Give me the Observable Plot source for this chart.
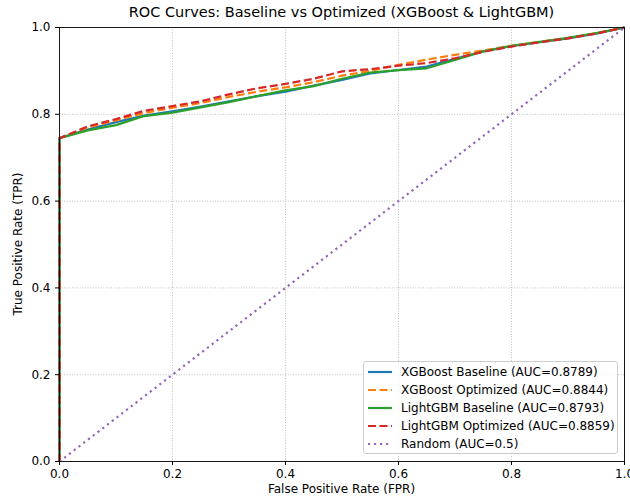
<!DOCTYPE html>
<html>
<head>
<meta charset="utf-8">
<script src="https://cdn.jsdelivr.net/npm/d3@7"></script>
<script src="https://cdn.jsdelivr.net/npm/@observablehq/plot@0.6"></script>
<style>
  html, body { margin: 0; padding: 0; background: white; }
  body { width: 630px; height: 499px; overflow: hidden; font-family: "DejaVu Sans", sans-serif; }
  #wrap { position: relative; width: 630px; height: 499px; }
  .abs { position: absolute; white-space: nowrap; color: #000; }
  #title { left: 0; width: 683px; top: 4px; text-align: center; font-size: 14.5px; }
  #xlabel { left: 0; width: 683px; top: 482px; text-align: center; font-size: 12px; }
  #ylabel { left: 18px; top: 244px; font-size: 12px; transform: translate(-50%, -50%) rotate(-90deg); }
  #legend { left: 363px; top: 361px; width: 255px; height: 93px; background: rgba(255,255,255,0.8);
            border: 1px solid #cccccc; border-radius: 3px; box-sizing: border-box; font-size: 12px; }
  .row { position: absolute; left: 0; height: 15px; display: flex; align-items: center; }
  .row svg { margin-left: 4px; margin-right: 9px; }
</style>
</head>
<body>
<div id="wrap"></div>
<script>
// ---- data ----
const fpr        = [0, 0,     0.05,  0.1,   0.15,  0.2,   0.25,  0.3,   0.35,  0.4,   0.45,  0.5,   0.55,  0.6,   0.65,  0.7,   0.75,  0.8,   0.85,  0.9,   0.95,  1.0];
const xgbBase    = [0, 0.745, 0.765, 0.782, 0.797, 0.807, 0.818, 0.830, 0.842, 0.852, 0.866, 0.879, 0.894, 0.902, 0.910, 0.928, 0.945, 0.957, 0.966, 0.975, 0.986, 1.0];
const xgbOpt     = [0, 0.745, 0.770, 0.786, 0.803, 0.815, 0.826, 0.840, 0.852, 0.862, 0.874, 0.889, 0.900, 0.914, 0.926, 0.937, 0.947, 0.958, 0.967, 0.976, 0.987, 1.0];
const lgbBase    = [0, 0.745, 0.763, 0.775, 0.796, 0.804, 0.816, 0.828, 0.842, 0.855, 0.865, 0.882, 0.896, 0.902, 0.906, 0.925, 0.945, 0.958, 0.967, 0.976, 0.987, 1.0];
const lgbOpt     = [0, 0.745, 0.772, 0.789, 0.808, 0.819, 0.830, 0.846, 0.860, 0.870, 0.882, 0.899, 0.904, 0.912, 0.918, 0.929, 0.944, 0.956, 0.966, 0.975, 0.986, 1.0];
const randFpr    = [0, 1];
const randTpr    = [0, 1];
const seriesNames = ["XGBoost Baseline (AUC=0.8789)", "XGBoost Optimized (AUC=0.8844)",
                     "LightGBM Baseline (AUC=0.8793)", "LightGBM Optimized (AUC=0.8859)", "Random (AUC=0.5)"];
const seriesColors = ["#1f77b4", "#ff7f0e", "#2ca02c", "#d62728", "#9467bd"];
const seriesDash   = [null, "8,3.5", null, "8,3.5", "2.2,3.8"];
const xTicks = [0, 0.2, 0.4, 0.6, 0.8, 1.0];
const yTicks = [0, 0.2, 0.4, 0.6, 0.8, 1.0];
const titleText = "ROC Curves: Baseline vs Optimized (XGBoost & LightGBM)";
const xLabelText = "False Positive Rate (FPR)";
const yLabelText = "True Positive Rate (TPR)";

const seriesVals = [xgbBase, xgbOpt, lgbBase, lgbOpt];
const rows = seriesVals.map((vals, k) => fpr.map((x, i) => ({s: k, fpr: x, tpr: vals[i]})));
const randRows = randFpr.map((x, i) => ({s: 4, fpr: x, tpr: randTpr[i]}));
const allRows = [...rows, randRows];

const fmt = d3.format(".1f");
const marks = [
  Plot.gridX(xTicks.slice(1, -1), {stroke: "#b0b0b0", strokeOpacity: 1, strokeWidth: 0.8, strokeDasharray: "1,1.6"}),
  Plot.gridY(yTicks.slice(1, -1), {stroke: "#b0b0b0", strokeOpacity: 1, strokeWidth: 0.8, strokeDasharray: "1,1.6"}),
];
allRows.forEach((r, k) => {
  marks.push(Plot.line(r, {x: "fpr", y: "tpr", stroke: seriesColors[k], strokeWidth: 2.2,
    strokeDasharray: seriesDash[k] || undefined, strokeLinecap: "butt", strokeLinejoin: "round"}));
});
marks.push(
  Plot.frame({stroke: "#000", strokeWidth: 0.9}),
  Plot.axisX(xTicks, {tickSize: 4, tickPadding: 4, tickFormat: fmt, fontSize: 12, label: null, stroke: "#000", fill: "#000"}),
  Plot.axisY(yTicks, {tickSize: 4, tickPadding: 5, tickFormat: fmt, fontSize: 12, label: null, stroke: "#000", fill: "#000"})
);

const chart = Plot.plot({
  width: 630, height: 499,
  marginTop: 27, marginBottom: 38, marginLeft: 59, marginRight: 6,
  style: {fontFamily: "DejaVu Sans", fontSize: "12px", color: "#000", background: "white", overflow: "visible"},
  x: {domain: [0, 1]},
  y: {domain: [0, 1]},
  marks
});

const wrap = document.getElementById("wrap");
wrap.appendChild(chart);

function addDiv(id, text) {
  const d = document.createElement("div");
  d.id = id; d.className = "abs"; d.textContent = text;
  wrap.appendChild(d); return d;
}
addDiv("title", titleText);
addDiv("xlabel", xLabelText);
addDiv("ylabel", yLabelText);

const legend = document.createElement("div");
legend.id = "legend"; legend.className = "abs";
seriesNames.forEach((name, k) => {
  const row = document.createElement("div");
  row.className = "row";
  row.style.top = (2.5 + k * 17.9) + "px";
  const ns = "http://www.w3.org/2000/svg";
  const sv = document.createElementNS(ns, "svg");
  sv.setAttribute("width", 24); sv.setAttribute("height", 10);
  const ln = document.createElementNS(ns, "line");
  ln.setAttribute("x1", 0); ln.setAttribute("x2", 24); ln.setAttribute("y1", 5); ln.setAttribute("y2", 5);
  ln.setAttribute("stroke", seriesColors[k]); ln.setAttribute("stroke-width", 2.2);
  if (seriesDash[k]) ln.setAttribute("stroke-dasharray", seriesDash[k]);
  sv.appendChild(ln);
  row.appendChild(sv);
  const t = document.createElement("span"); t.textContent = name;
  row.appendChild(t);
  legend.appendChild(row);
});
wrap.appendChild(legend);
</script>
</body>
</html>
